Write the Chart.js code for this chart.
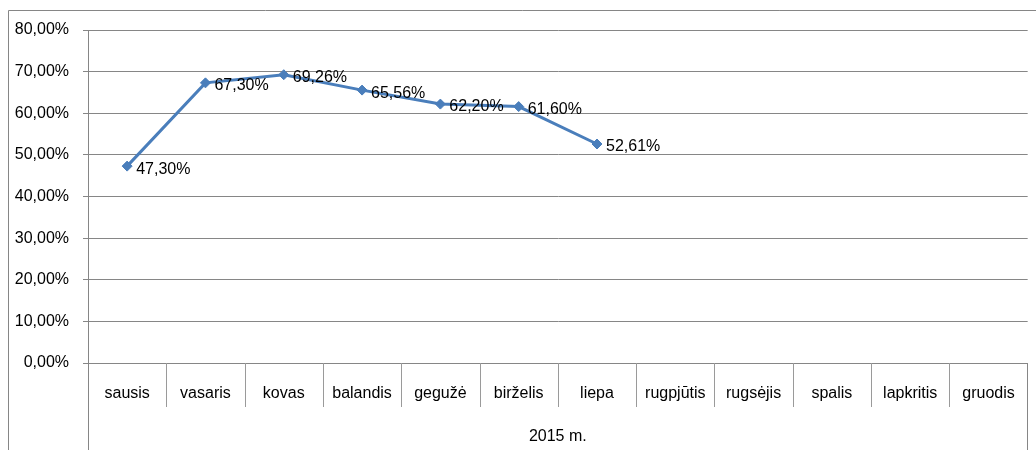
<!DOCTYPE html>
<html>
<head>
<meta charset="utf-8">
<script src="https://cdn.jsdelivr.net/npm/chart.js@4/dist/chart.umd.min.js"></script>
<style>
html,body{margin:0;padding:0;background:#fff;}
#wrap{width:1036px;height:450px;}
</style>
</head>
<body>
<div id="wrap"><canvas id="c" width="1036" height="450"></canvas></div>
<script>
const categories = ['sausis','vasaris','kovas','balandis','gegužė','birželis','liepa','rugpjūtis','rugsėjis','spalis','lapkritis','gruodis'];
const values = [47.30, 67.30, 69.26, 65.56, 62.20, 61.60, 52.61, null, null, null, null, null];
const groupLabel = '2015 m.';
const yMin = 0, yMax = 80, yStep = 10;

const FONT = "'Liberation Sans', Arial, sans-serif";
const GRID = '#868686';
const fmt = v => v.toFixed(2).replace('.', ',') + '%';

const decor = {
  id: 'decor',
  beforeDraw(chart) {
    const ctx = chart.ctx;
    ctx.save();
    ctx.fillStyle = '#fff';
    ctx.fillRect(0, 0, chart.width, chart.height);
    ctx.strokeStyle = GRID;
    ctx.lineWidth = 1;
    ctx.beginPath();
    ctx.moveTo(8.5, chart.height + 2);
    ctx.lineTo(8.5, 10.5);
    ctx.lineTo(chart.width + 2, 10.5);
    ctx.stroke();
    ctx.restore();
  },
  afterDraw(chart) {
    const ctx = chart.ctx;
    const x = chart.scales.x;
    const a = chart.chartArea;
    ctx.save();
    ctx.strokeStyle = GRID;
    ctx.lineWidth = 1;
    ctx.beginPath();
    ctx.moveTo(Math.round(a.left) + 0.5, a.bottom);
    ctx.lineTo(Math.round(a.left) + 0.5, chart.height);
    ctx.moveTo(Math.round(a.right) - 0.5, a.bottom);
    ctx.lineTo(Math.round(a.right) - 0.5, chart.height);
    ctx.stroke();
    ctx.strokeStyle = '#9a9a9a';
    ctx.beginPath();
    for (let i = 1; i < categories.length; i++) {
      const px = Math.round((x.getPixelForValue(i - 1) + x.getPixelForValue(i)) / 2) + 0.5;
      ctx.moveTo(px, a.bottom);
      ctx.lineTo(px, a.bottom + 44);
    }
    ctx.stroke();
    ctx.restore();
  },
  afterDatasetsDraw(chart) {
    const ctx = chart.ctx;
    const meta = chart.getDatasetMeta(0);
    ctx.save();
    ctx.font = '16px ' + FONT;
    ctx.fillStyle = '#000';
    ctx.textAlign = 'left';
    ctx.textBaseline = 'middle';
    meta.data.forEach((pt, i) => {
      const v = values[i];
      if (v === null || v === undefined) return;
      ctx.fillText(fmt(v), pt.x + 9, pt.y + 3);
    });
    ctx.restore();
  }
};

new Chart(document.getElementById('c'), {
  type: 'line',
  data: {
    labels: categories,
    datasets: [{
      data: values,
      borderColor: '#4A7EBB',
      backgroundColor: '#4A7EBB',
      borderWidth: 3,
      pointStyle: 'rectRot',
      pointRadius: 5,
      pointBorderWidth: 1,
      pointBackgroundColor: '#4A7EBB',
      pointBorderColor: '#4A7EBB',
      tension: 0,
      spanGaps: false
    }]
  },
  options: {
    responsive: false,
    devicePixelRatio: 1,
    animation: false,
    events: [],
    layout: { padding: { top: 30, right: 1, left: 0, bottom: 0 } },
    plugins: { legend: { display: false }, tooltip: { enabled: false }, title: { display: false } },
    scales: {
      x: {
        type: 'category',
        offset: true,
        grid: { display: false, drawTicks: false },
        border: { display: false },
        ticks: { color: '#000', font: { family: FONT, size: 16 }, padding: 21, maxRotation: 0, autoSkip: false },
        title: { display: true, text: groupLabel, color: '#000', font: { family: FONT, size: 16 }, padding: { top: 0, bottom: 4 } },
        afterFit(s) { s.height = 87; }
      },
      y: {
        min: yMin,
        max: yMax,
        ticks: { stepSize: yStep, color: '#000', font: { family: FONT, size: 16 }, padding: 14, callback: v => fmt(v) },
        grid: { color: GRID, lineWidth: 1, drawTicks: true, tickLength: 5, tickColor: GRID },
        border: { display: true, color: GRID, width: 1 },
        afterFit(s) { s.width = 88; }
      }
    }
  },
  plugins: [decor]
});
</script>
</body>
</html>
